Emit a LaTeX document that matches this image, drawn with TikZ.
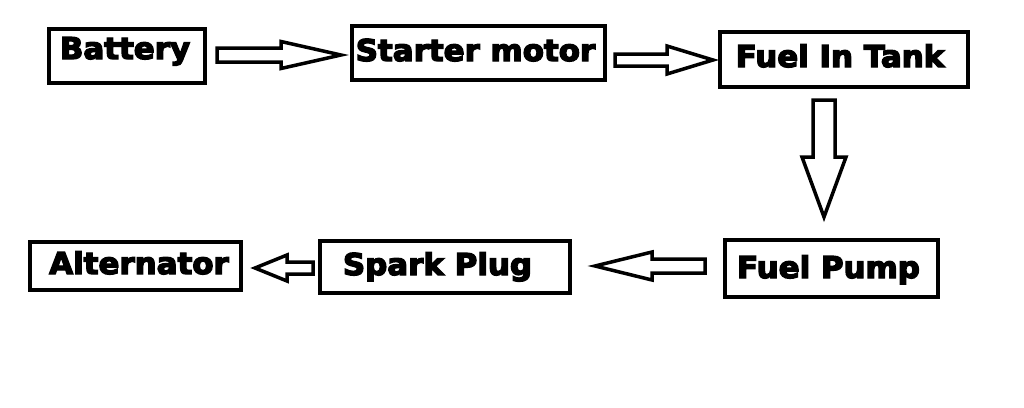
\documentclass[tikz,border=0pt]{standalone}
\usepackage{fontspec}
\newfontfamily\lblfont{DejaVu Sans}[FakeBold=4.5, FakeStretch=1.03]
\usetikzlibrary{calc}
\tikzset{
  box/.style={draw=black, line width=4pt, rectangle, inner sep=0pt, fill=none},
  txt/.style={anchor=base, inner sep=0pt, font=\lblfont\bfseries\fontsize{30}{30}\selectfont},
  blockarrow/.style={draw=black, line width=3.5pt, fill=white, line join=miter},
}
% horizontal block arrow: tail, tip, shaft half, head half, head length
\newcommand\hblock[5]{%
  \draw[blockarrow] let \p1=(#1), \p2=(#2), \n1={ifthenelse(\x2>\x1,1,-1)} in
  (\x1,\y1+#3) -- (\x2-\n1*#5,\y1+#3) -- (\x2-\n1*#5,\y1+#4) -- (\x2,\y1)
  -- (\x2-\n1*#5,\y1-#4) -- (\x2-\n1*#5,\y1-#3) -- (\x1,\y1-#3) -- cycle;}
% vertical (downward) block arrow
\newcommand\vblock[5]{%
  \draw[blockarrow] let \p1=(#1), \p2=(#2) in
  (\x1-#3,\y1) -- (\x1-#3,\y2+#5) -- (\x1-#4,\y2+#5) -- (\x1,\y2)
  -- (\x1+#4,\y2+#5) -- (\x1+#3,\y2+#5) -- (\x1+#3,\y1) -- cycle;}
\begin{document}
\begin{tikzpicture}[x=1pt, y=-1pt]
\useasboundingbox[fill=white] (0,0) rectangle (1024,407);
% boxes
\node[box, minimum width=156pt, minimum height=54pt] (battery) at (127,56) {};
\node[box, minimum width=253pt, minimum height=54pt] (starter) at (478.5,53) {};
\node[box, minimum width=248pt, minimum height=55pt] (tank) at (844,59.5) {};
\node[box, minimum width=211pt, minimum height=48pt] (alt) at (135.5,266) {};
\node[box, minimum width=250pt, minimum height=52pt] (spark) at (445,267) {};
\node[box, minimum width=213pt, minimum height=57pt] (pump) at (831.5,268.5) {};
% labels
\node[txt] (tbattery) at (125,59) {Battery};
\node[txt] (tstarter) at (475.5,61) {Starter motor};
\node[txt] (ttank) at (840,67) {Fuel In Tank};
\node[txt] (talt) at (139,274) {Alternator};
\node[txt] (tspark) at (437.5,275) {Spark Plug};
\node[txt] (tpump) at (828.5,278) {Fuel Pump};
% arrow end points
\coordinate (a1s) at ($(battery.east)+(10,-1)$);
\coordinate (a1e) at ($(starter.west)+(-9,2)$);
\coordinate (a2s) at ($(starter.east)+(8,7)$);
\coordinate (a2e) at ($(tank.west)+(-5,0.5)$);
\coordinate (a3s) at ($(tank.south)+(-20,11)$);
\coordinate (a3e) at ($(pump.north)+(-7.5,-21)$);
\coordinate (a4s) at ($(pump.west)+(-18,-2.5)$);
\coordinate (a4e) at ($(spark.east)+(23,-1)$);
\coordinate (a5s) at ($(spark.west)+(-5,1)$);
\coordinate (a5e) at ($(alt.east)+(12,2)$);
% arrows
\hblock{a1s}{a1e}{7pt}{13.5pt}{60pt}
\hblock{a2s}{a2e}{6pt}{14pt}{46pt}
\vblock{a3s}{a3e}{11pt}{22pt}{60pt}
\hblock{a4s}{a4e}{7pt}{14pt}{57pt}
\hblock{a5s}{a5e}{6pt}{13pt}{32pt}
\end{tikzpicture}
\end{document}
